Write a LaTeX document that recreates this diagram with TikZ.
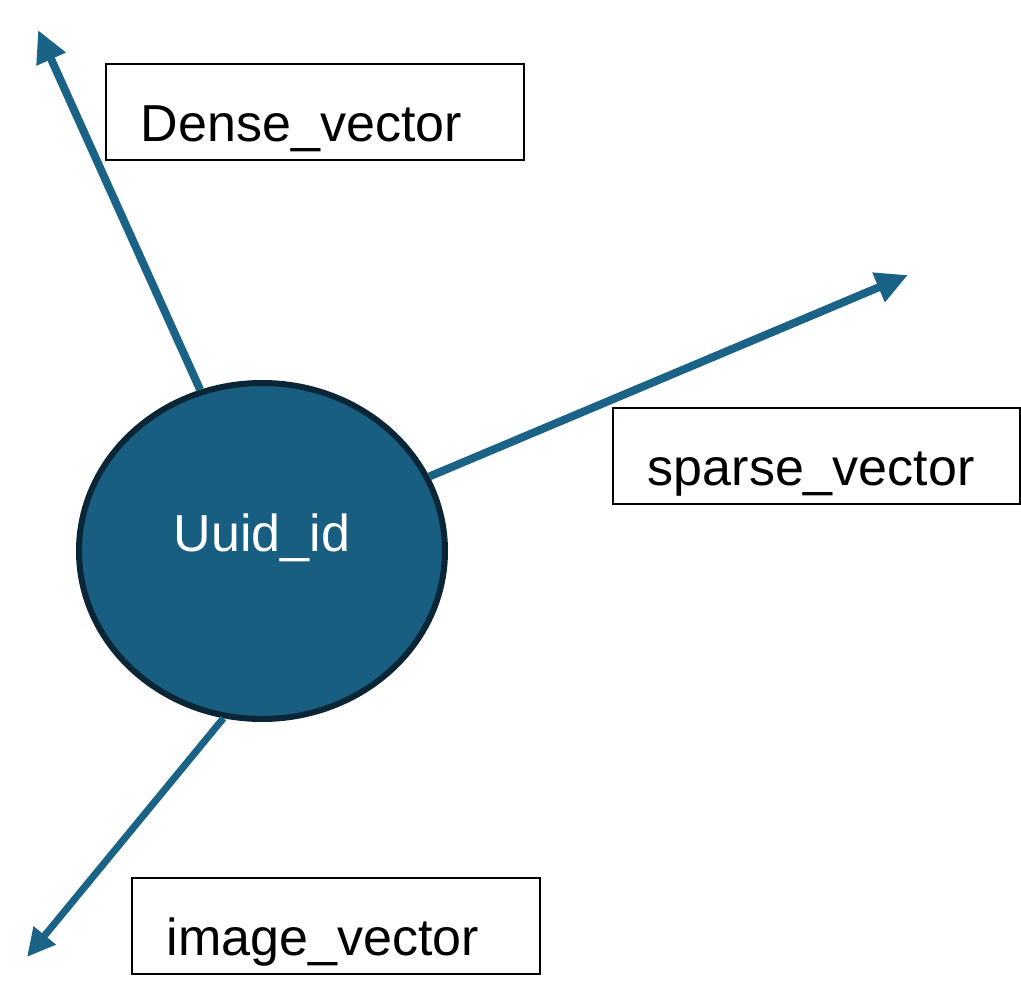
\documentclass[tikz,border=0pt]{standalone}
\usepackage{fontspec}
\setmainfont{Liberation Sans}
\usetikzlibrary{shapes.geometric,arrows.meta}
\definecolor{vecblue}{HTML}{1A6286}
\definecolor{idfill}{HTML}{175E80}
\definecolor{idline}{HTML}{0A2535}
\begin{document}
\begin{tikzpicture}[x=1pt,y=-1pt,
  vecbox/.style={draw,line width=1.8pt,anchor=north west,inner xsep=35pt,inner ysep=0pt,
    text width=#1,align=left,text height=78pt,text depth=18pt,font=\fontsize{52}{60}\selectfont},
  vecarrow/.style={draw=vecblue,line width=8pt,-{Triangle[length=32pt,width=30pt]}}]
\useasboundingbox (0,0) rectangle (1021,987);
\node [ellipse,draw=idline,fill=idfill,line width=6pt,minimum width=366pt,minimum height=336pt,
  text=white,text height=0pt,text depth=0pt,font=\fontsize{52}{60}\selectfont] (uid) at (262,551) {Uuid\_id};
\node [vecbox=348pt] (dense) at (105,63) {Dense\_vector};
\node [vecbox=337pt] (sparse) at (612,407) {sparse\_vector};
\node [vecbox=338pt] (image) at (131,877) {image\_vector};
\coordinate (densetip) at (38,30);
\coordinate (sparsetip) at (908,275);
\coordinate (imagetip) at (27,957);
\draw [vecarrow] (uid.111) -- (densetip);
\draw [vecarrow] (uid.24) -- (sparsetip);
\draw [vecarrow,line width=7pt,-{Triangle[length=28pt,width=27pt]}] (uid.257) -- (imagetip);
\end{tikzpicture}
\end{document}
